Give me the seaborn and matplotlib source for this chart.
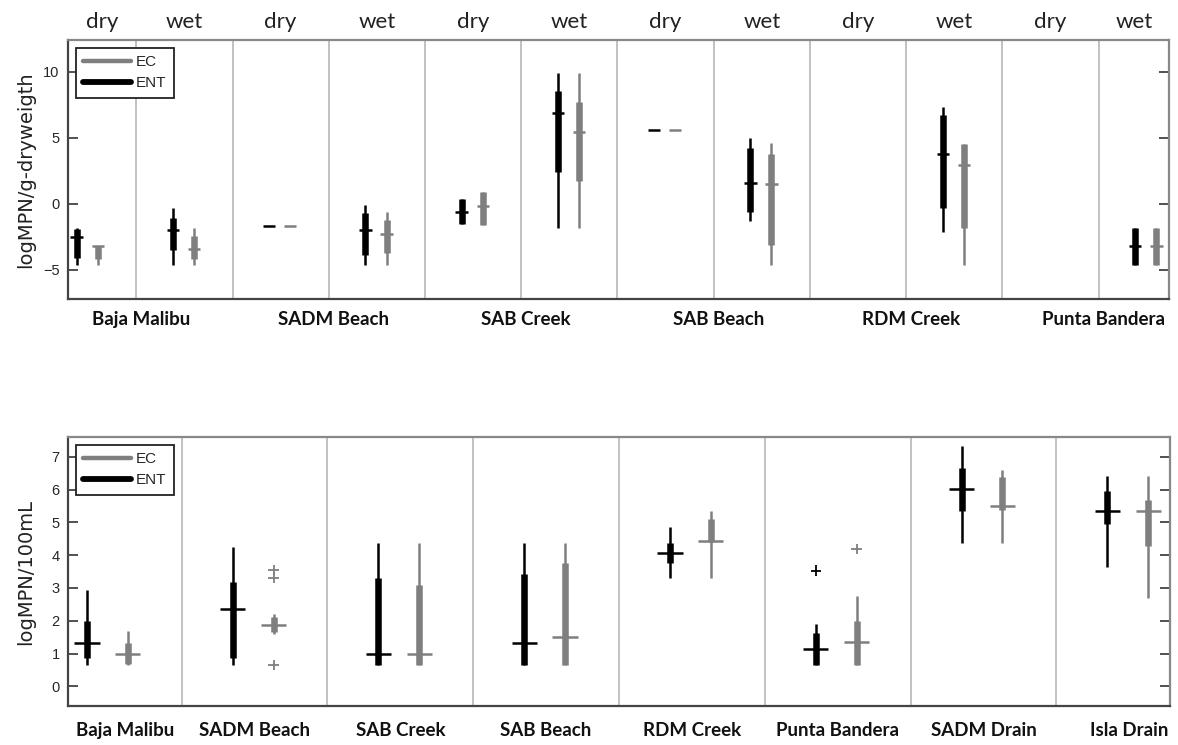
import numpy as np
import pandas as pd
import matplotlib
matplotlib.use("Agg")
import matplotlib.pyplot as plt
import matplotlib.transforms as mtransforms
from matplotlib.lines import Line2D
import seaborn as sns

nan = np.nan

# ---------------- sediment samples (logMPN per g dry weight) ----------------
sed_sites = ["Baja Malibu", "SADM Beach", "SAB Creek", "SAB Beach", "RDM Creek", "Punta Bandera"]
seasons = ["dry", "wet"]
# one entry per site/season group, ordered site by site (dry, wet)
sed_ent_lo  = [-4.6, -4.6, -1.7, -4.6, -1.5, -1.8, 5.6, -1.3, nan, -2.1, nan, -4.6]
sed_ent_q1  = [-4.1, -3.5, -1.7, -3.9, -1.5,  2.4, 5.6, -0.6, nan, -0.3, nan, -4.6]
sed_ent_med = [-2.5, -2.0, -1.7, -2.0, -0.6,  6.9, 5.6,  1.6, nan,  3.8, nan, -3.2]
sed_ent_q3  = [-1.9, -1.1, -1.7, -0.7,  0.4,  8.5, 5.6,  4.2, nan,  6.7, nan, -1.8]
sed_ent_hi  = [-1.8, -0.3, -1.7, -0.1,  0.4,  9.9, 5.6,  5.0, nan,  7.3, nan, -1.8]

sed_ec_lo   = [-4.6, -4.6, -1.7, -4.6, -1.6, -1.8, 5.6, -4.6, nan, -4.6, nan, -4.6]
sed_ec_q1   = [-4.2, -4.2, -1.7, -3.7, -1.6,  1.7, 5.6, -3.1, nan, -1.8, nan, -4.6]
sed_ec_med  = [-3.2, -3.4, -1.7, -2.3, -0.2,  5.4, 5.6,  1.5, nan,  2.9, nan, -3.2]
sed_ec_q3   = [-3.2, -2.4, -1.7, -1.2,  0.9,  7.7, 5.6,  3.8, nan,  4.5, nan, -1.8]
sed_ec_hi   = [-3.2, -1.8, -1.7, -0.6,  0.9,  9.9, 5.6,  4.6, nan,  4.5, nan, -1.8]

# ---------------- water samples (logMPN per 100 mL) ----------------
wat_sites = ["Baja Malibu", "SADM Beach", "SAB Creek", "SAB Beach", "RDM Creek",
             "Punta Bandera", "SADM Drain", "Isla Drain"]
wat_ent_lo  = [0.64, 0.64, 0.64, 0.64, 3.29, 0.64, 4.36, 3.65]
wat_ent_q1  = [0.85, 0.85, 0.64, 0.64, 3.75, 0.64, 5.33, 4.94]
wat_ent_med = [1.31, 2.35, 1.00, 1.31, 4.06, 1.15, 6.02, 5.36]
wat_ent_q3  = [1.99, 3.19, 3.29, 3.43, 4.38, 1.64, 6.66, 5.94]
wat_ent_hi  = [2.94, 4.26, 4.38, 4.38, 4.87, 1.90, 7.32, 6.42]
wat_ent_out = [[], [], [], [], [], [3.53], [], []]

wat_ec_lo   = [0.64, 1.60, 0.64, 0.64, 3.29, 0.64, 4.36, 2.68]
wat_ec_q1   = [0.69, 1.65, 0.64, 0.64, 4.40, 0.64, 5.38, 4.28]
wat_ec_med  = [1.00, 1.87, 1.00, 1.49, 4.44, 1.36, 5.50, 5.36]
wat_ec_q3   = [1.31, 2.10, 3.09, 3.75, 5.10, 1.99, 6.38, 5.69]
wat_ec_hi   = [1.69, 2.20, 4.38, 4.38, 5.33, 2.76, 6.60, 6.42]
wat_ec_out  = [[], [3.55, 3.30, 0.65], [], [], [], [4.19], [], []]

EC_COLOR = "#7f7f7f"
ENT_COLOR = "#000000"
palette = {"EC": EC_COLOR, "ENT": ENT_COLOR}
TEXT_FONT = ["Lato", "DejaVu Sans"]
TICK_FONT = ["Liberation Sans", "DejaVu Sans"]


def segments(pos, lo, q1, q3, hi, species):
    """Long table of whisker and box segments, one unit per segment."""
    rows = []
    for i, (p, a, b, c, d) in enumerate(zip(pos, lo, q1, q3, hi)):
        if np.isnan(a):
            continue
        rows += [(p, a, "whisker", f"{species}-w{i}", species),
                 (p, d, "whisker", f"{species}-w{i}", species),
                 (p, b, "box", f"{species}-b{i}", species),
                 (p, c, "box", f"{species}-b{i}", species)]
    return pd.DataFrame(rows, columns=["x", "y", "part", "seg", "species"])


def points(pos, vals, species):
    rows = [(p, v, species) for p, v in zip(pos, vals) if not np.isnan(v)]
    return pd.DataFrame(rows, columns=["x", "y", "species"])


def outliers(pos, outs, species):
    rows = [(p, v, species) for p, vs in zip(pos, outs) for v in vs]
    return pd.DataFrame(rows, columns=["x", "y", "species"])


def draw_groups(ax, ent_pos, ec_pos, ent, ec, med_size, ent_out=None, ec_out=None):
    seg = pd.concat([segments(ent_pos, ent[0], ent[1], ent[3], ent[4], "ENT"),
                     segments(ec_pos, ec[0], ec[1], ec[3], ec[4], "EC")],
                    ignore_index=True)
    sns.lineplot(data=seg, x="x", y="y", hue="species", size="part",
                 sizes={"whisker": 1.8, "box": 4.7}, units="seg", estimator=None,
                 sort=False, palette=palette, legend=False, ax=ax,
                 solid_capstyle="butt")
    med = pd.concat([points(ent_pos, ent[2], "ENT"), points(ec_pos, ec[2], "EC")],
                    ignore_index=True)
    sns.scatterplot(data=med, x="x", y="y", hue="species", palette=palette,
                    marker="_", s=med_size, linewidth=1.8, legend=False, ax=ax,
                    zorder=4)
    if ent_out is not None:
        out = pd.concat([outliers(ent_pos, ent_out, "ENT"),
                         outliers(ec_pos, ec_out, "EC")], ignore_index=True)
        sns.scatterplot(data=out, x="x", y="y", hue="species", palette=palette,
                        marker="+", s=55, linewidth=1.3, legend=False, ax=ax,
                        zorder=4)


def style_axes(ax, n_cols, xlim, ylim, yticks, ylabel):
    ax.set_xlim(*xlim)
    ax.set_ylim(*ylim)
    for k in range(1, n_cols):
        ax.axvline(k + 0.5, color="#bdbdbd", lw=1.3, zorder=0)
    ax.set_xticks([])
    ax.set_xlabel("")
    ax.set_yticks(yticks)
    ax.tick_params(axis="y", direction="in", left=True, right=True, length=7,
                   width=1.2, color="#333333", labelsize=10.5, pad=6)
    for lab in ax.get_yticklabels():
        lab.set_fontfamily(TICK_FONT)
    for side, sp in ax.spines.items():
        sp.set_visible(True)
        sp.set_linewidth(1.6)
        sp.set_color("#444444" if side in ("left", "bottom") else "#888888")
    ax.set_ylabel(ylabel, fontsize=14, family=["DejaVu Sans"], color="#222222")
    ax.yaxis.set_label_coords(-0.030, 0.5)
    handles = [Line2D([], [], color=EC_COLOR, lw=3.2),
               Line2D([], [], color=ENT_COLOR, lw=4.2)]
    leg = ax.legend(handles, ["EC", "ENT"], loc="upper left", fancybox=False,
                    framealpha=1, edgecolor="#222222", fontsize=11,
                    handlelength=3.1, handletextpad=0.35, borderpad=0.5,
                    labelspacing=0.45, borderaxespad=0.5)
    leg.get_frame().set_linewidth(1.3)
    for t in leg.get_texts():
        t.set_fontfamily(TICK_FONT)
    leg.set_zorder(10)


def visible_center(c, xlim):
    """Middle of the part of column c that lies inside the axes."""
    return (max(c - 0.5, xlim[0]) + min(c + 0.5, xlim[1])) / 2


sns.set_style("white")
fig = plt.figure(figsize=(11.78, 7.45), dpi=100)
ax_top = fig.add_axes([0.0577, 0.5987, 0.9346, 0.3477])
ax_bot = fig.add_axes([0.0577, 0.0523, 0.9355, 0.3611])

# ---- top panel: sediment, dry/wet per site ----
xlim_top = (0.79, 12.23)
cols_top = np.arange(1, len(sed_sites) * len(seasons) + 1)
draw_groups(ax_top, cols_top - 0.12, cols_top + 0.10,
            [sed_ent_lo, sed_ent_q1, sed_ent_med, sed_ent_q3, sed_ent_hi],
            [sed_ec_lo, sed_ec_q1, sed_ec_med, sed_ec_q3, sed_ec_hi],
            med_size=80)
style_axes(ax_top, len(cols_top), xlim_top, (-7.2, 12.4), [-5, 0, 5, 10],
           "logMPN/g-dryweigth")
tr_top = mtransforms.blended_transform_factory(ax_top.transData, ax_top.transAxes)
for k, c in enumerate(cols_top):
    ax_top.text(visible_center(c, xlim_top), 1.046, seasons[k % 2], transform=tr_top,
                ha="center", va="baseline", fontsize=16, family=TEXT_FONT,
                color="#222222")
for i, site in enumerate(sed_sites):
    ax_top.text(2 * i + 1.55, -0.100, site, transform=tr_top, ha="center",
                va="baseline", fontsize=13.5, fontweight="bold", family=TEXT_FONT,
                color="#111111")

# ---- bottom panel: water, one group per site ----
xlim_bot = (0.72, 8.28)
cols_bot = np.arange(1, len(wat_sites) + 1)
draw_groups(ax_bot, cols_bot - 0.15, cols_bot + 0.13,
            [wat_ent_lo, wat_ent_q1, wat_ent_med, wat_ent_q3, wat_ent_hi],
            [wat_ec_lo, wat_ec_q1, wat_ec_med, wat_ec_q3, wat_ec_hi],
            med_size=330, ent_out=wat_ent_out, ec_out=wat_ec_out)
style_axes(ax_bot, len(cols_bot), xlim_bot, (-0.6, 7.6), list(range(0, 8)),
           "logMPN/100mL")
tr_bot = mtransforms.blended_transform_factory(ax_bot.transData, ax_bot.transAxes)
for c, site in zip(cols_bot, wat_sites):
    xpos = visible_center(c, xlim_bot) if c == 1 else c
    ax_bot.text(xpos, -0.1115, site, transform=tr_bot, ha="center", va="baseline",
                fontsize=13.5, fontweight="bold", family=TEXT_FONT, color="#111111")

fig.savefig("out.png", dpi=100, facecolor="white")
